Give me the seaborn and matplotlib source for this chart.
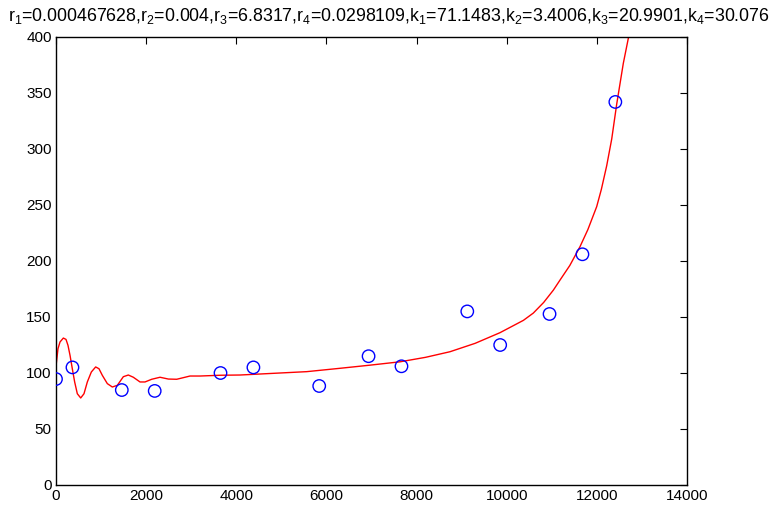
import matplotlib
matplotlib.use("Agg")
import matplotlib.pyplot as plt
import seaborn as sns
import pandas as pd

# Observations (days, value)
obs_day = [0, 365, 1460, 2190, 3650, 4380, 5840, 6935, 7665, 9125, 9855, 10950, 11680, 12410]
obs_val = [94.6, 105, 84.8, 84, 100, 105, 88.4, 115, 106, 155, 125, 152.7, 206, 342]

# Fitted model curve, sampled along its course
fit_day = [0, 44, 89, 163, 222, 266, 311, 362, 414, 473, 548, 621, 695, 784,
           880, 954, 1028, 1139, 1250, 1361, 1494, 1605, 1716, 1864, 1975,
           2123, 2308, 2493, 2678, 2862, 2973, 3195, 3650, 4082, 4822, 5562,
           6301, 6967, 7633, 8200, 8742, 9300, 9851, 10370, 10590, 10820,
           11035, 11183, 11400, 11626, 11800, 11996, 12100, 12218, 12330,
           12440, 12587, 12698, 12760]
fit_val = [106, 121.7, 127.7, 131.2, 130, 124.7, 115.8, 103.8, 92, 81.5, 77.7,
           81.5, 92, 100.9, 105.4, 103.8, 97.9, 90.5, 87.5, 89, 96.7, 98.2,
           96.2, 92, 92, 94.4, 96.2, 94.6, 94.4, 96.2, 97.3, 97.3, 98, 98.2,
           99.7, 101.2, 104.2, 107, 110, 114, 119, 126.5, 136, 147, 153.5,
           163, 174, 183, 196, 212.8, 228, 248.5, 264, 285, 309,
           340, 376.5, 398.8, 412]

title_text = (r"r$_1$=0.000467628,r$_2$=0.004,r$_3$=6.8317,r$_4$=0.0298109,"
              r"k$_1$=71.1483,k$_2$=3.4006,k$_3$=20.9901,k$_4$=30.076")

sns.set_style("white")
plt.rcParams["font.family"] = ["Liberation Sans", "DejaVu Sans"]
plt.rcParams["mathtext.default"] = "regular"

fig = plt.figure(figsize=(7.73, 5.13), dpi=100)
ax = fig.add_axes([56 / 773, 28 / 513, 631 / 773, 448 / 513])

fit_df = pd.DataFrame({"day": fit_day, "value": fit_val})
obs_df = pd.DataFrame({"day": obs_day, "value": obs_val})

sns.lineplot(data=fit_df, x="day", y="value", ax=ax, color=(1, 0, 0),
             linewidth=1.0, sort=False, estimator=None)
sns.scatterplot(data=obs_df, x="day", y="value", ax=ax, marker="o", s=80,
                facecolor="none", edgecolor=(0, 0, 1), linewidth=1.0, zorder=3)

ax.set_xlim(0, 14000)
ax.set_ylim(0, 400)
ax.set_xticks(range(0, 14001, 2000))
ax.set_yticks(range(0, 401, 50))
ax.set_xlabel("")
ax.set_ylabel("")
for sp in ax.spines.values():
    sp.set_visible(True)
    sp.set_color("black")
    sp.set_linewidth(1.0)
ax.tick_params(direction="in", length=5, width=0.8, top=True, right=True,
               labelsize=11, colors="black", pad=3)

fig.text(8 / 773, 1 - 21 / 513, title_text, fontsize=12.8, ha="left",
         va="baseline", color="black")

fig.savefig("out.png", dpi=100)
